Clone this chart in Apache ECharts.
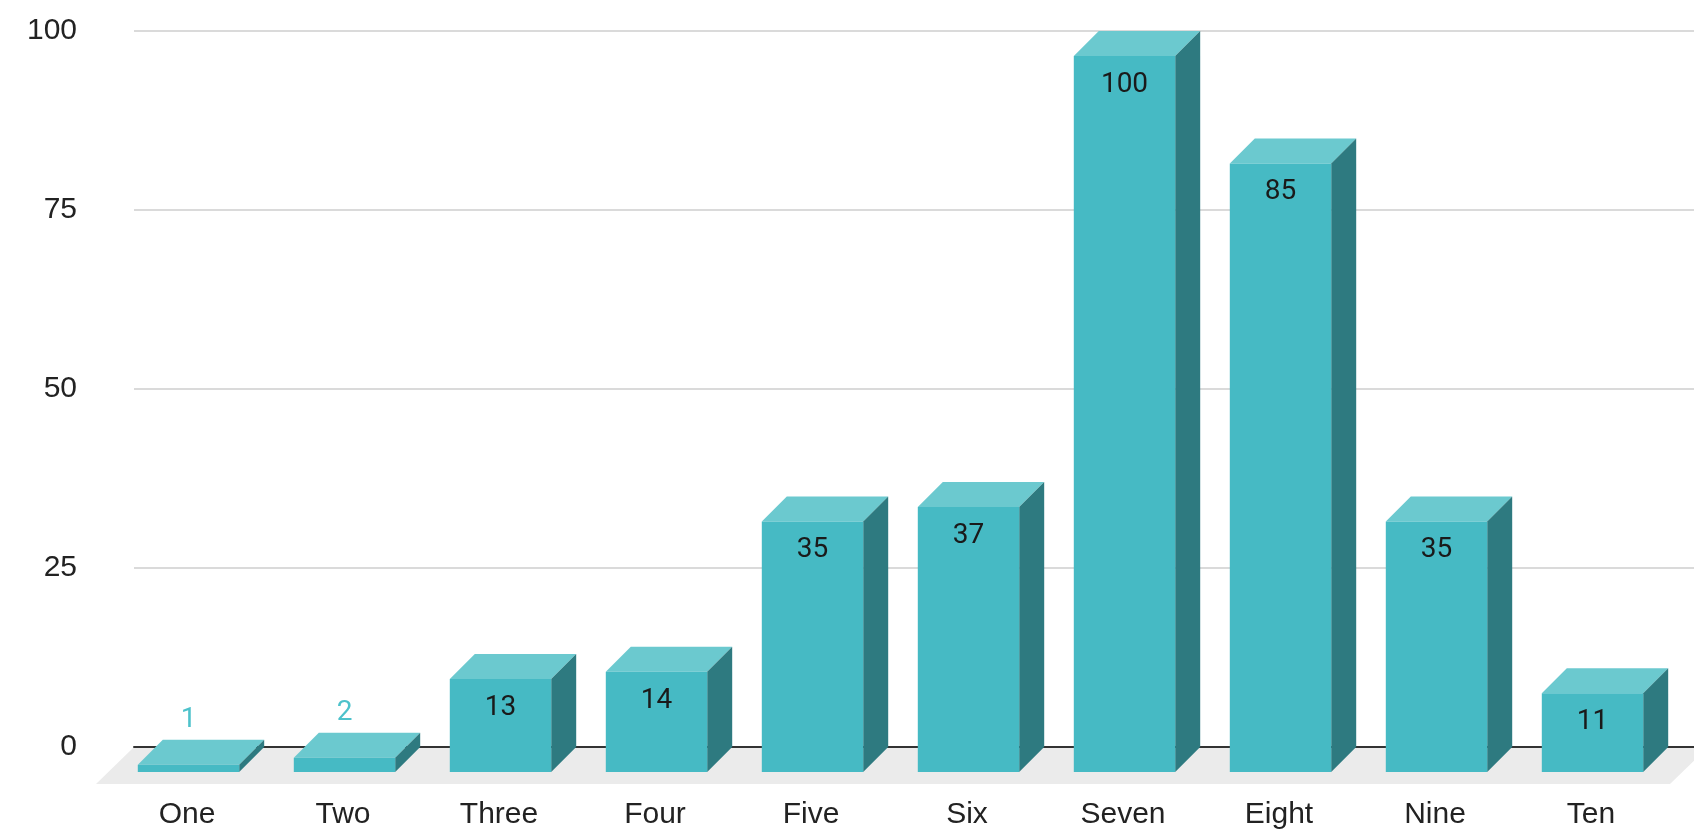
<!DOCTYPE html>
<html><head><meta charset="utf-8">
<script src="https://cdn.jsdelivr.net/npm/echarts@6/dist/echarts.min.js"></script>
<style>html,body{margin:0;padding:0;background:#fff}#c{width:1694px;height:831px}</style>
</head><body><div id="c"></div>
<script>
const categories = ['One','Two','Three','Four','Five','Six','Seven','Eight','Nine','Ten'];
const values = [1, 2, 13, 14, 35, 37, 100, 85, 35, 11];
const yMin = 0, yMax = 100, yStep = 25;

const FRONT = '#46BAC4', TOP = '#6BC9CF', SIDE = '#2E7A80', FLOOR = '#EBEBEB';
const DEPTH = 25;

const barData = categories.map((c, i) => [i, values[i]]);

function renderBar(params, api) {
  const i = api.value(0), v = api.value(1);
  const base = api.coord([i, 0]);
  const top = api.coord([i, v]);
  const band = api.size([1, 0])[0];
  const w = band * 0.65;
  const D = DEPTH;
  const cx = base[0] + 1.5;
  const x0 = cx - w / 2, x1 = cx + w / 2;
  const yb = base[1], yt = top[1];
  const h = yb - yt;
  const inside = h > 50;
  return {
    type: 'group',
    children: [
      {type: 'polygon', shape: {points: [[x0 - D, yt + D], [x1 - D, yt + D], [x1, yt], [x0, yt]]}, style: {fill: TOP}},
      {type: 'polygon', shape: {points: [[x1 - D, yt + D], [x1, yt], [x1, yb], [x1 - D, yb + D]]}, style: {fill: SIDE}},
      {type: 'rect', shape: {x: x0 - D, y: yt + D, width: w, height: h}, style: {fill: FRONT}},
      {type: 'text', style: {
        text: String(v), x: cx - D, y: inside ? yt + D + 29 : yt + D - 45,
        align: 'center', verticalAlign: 'middle',
        fontSize: 28, fontFamily: 'Roboto', fill: inside ? '#1a1a1a' : '#4DC2CB'
      }}
    ]
  };
}

function renderFloor(params, api) {
  const cs = params.coordSys;
  const y0 = cs.y + cs.height;
  return {
    type: 'polygon',
    shape: {points: [[cs.x - 1, y0 + 1], [cs.x + cs.width + 13, y0 + 1], [cs.x + cs.width - 24, y0 + 37], [cs.x - 38, y0 + 37]]},
    style: {fill: FLOOR}
  };
}

const chart = echarts.init(document.getElementById('c'), null, {renderer: 'canvas'});
chart.setOption({
  animation: false,
  backgroundColor: '#fff',
  grid: {left: 134, right: -2, top: 31, bottom: 84, containLabel: false},
  xAxis: {
    type: 'category', data: categories,
    axisTick: {show: false},
    axisLine: {show: true, lineStyle: {color: '#333', width: 2}},
    axisLabel: {color: '#222', fontSize: 30, fontFamily: 'Liberation Sans', margin: 53, padding: [0, 50, 0, 0], interval: 0}
  },
  yAxis: {
    type: 'value', min: yMin, max: yMax, interval: yStep,
    axisLine: {show: false}, axisTick: {show: false},
    splitLine: {lineStyle: {color: '#DADADA', width: 2}},
    axisLabel: {color: '#222', fontSize: 30, fontFamily: 'Liberation Sans', margin: 57}
  },
  series: [
    {type: 'custom', z: -1, data: [[0, 0]], renderItem: renderFloor, silent: true},
    {type: 'custom', z: 3, data: barData, renderItem: renderBar, encode: {x: 0, y: 1}}
  ]
});
</script>
</body></html>
